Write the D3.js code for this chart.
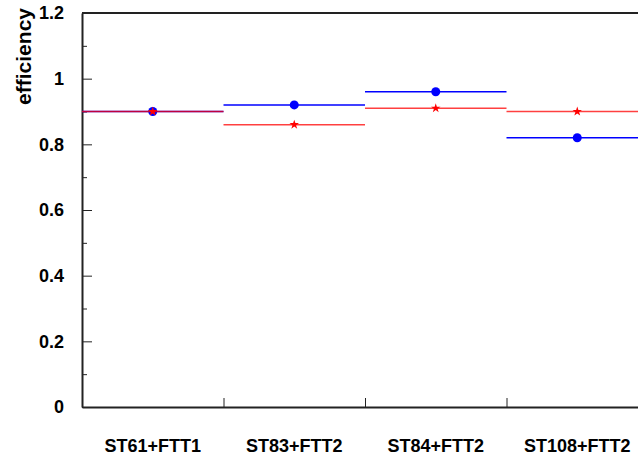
<!DOCTYPE html>
<html>
<head>
<meta charset="utf-8">
<script src="https://cdn.jsdelivr.net/npm/d3@7"></script>
<style>
  body { margin: 0; background: #fff; }
  svg { display: block; font-family: "Liberation Sans", Arial, sans-serif; }
  .axis path, .axis line { stroke: #222; }
  .axis text { font-size: 18px; font-weight: bold; fill: #000; }
</style>
</head>
<body>
<svg width="638" height="460"></svg>
<script>
// categories + efficiency values
const categories = ['ST61+FTT1', 'ST83+FTT2', 'ST84+FTT2', 'ST108+FTT2'];
const blueValues = [0.90, 0.92, 0.96, 0.82];
const redValues = [0.90, 0.86, 0.91, 0.90];
const majorTicks = [0, 0.2, 0.4, 0.6, 0.8, 1, 1.2];
const minorTicks = [0.1, 0.3, 0.5, 0.7, 0.9, 1.1];

const svg = d3.select('svg');
const frame = { left: 82, right: 648, top: 13, bottom: 407 };

const x = d3.scaleBand().domain(categories).range([frame.left, frame.right]).padding(0);
const xEdge = d3.scaleLinear().domain([0, categories.length]).range([frame.left, frame.right]);
const y = d3.scaleLinear().domain([0, 1.2]).range([frame.bottom, frame.top]);

// top and right border of the frame
svg.append('path')
    .attr('d', `M${frame.left},${frame.top}H${frame.right}V${frame.bottom}`)
    .attr('fill', 'none')
    .attr('stroke', '#222')
    .attr('stroke-width', 2);

// minor ticks on the y axis
svg.append('g')
    .attr('class', 'axis')
    .attr('transform', `translate(${frame.left},0)`)
    .call(d3.axisLeft(y).tickValues(minorTicks).tickSize(-5).tickFormat(''))
    .call(g => g.select('.domain').remove());

// major ticks + labels
svg.append('g')
    .attr('class', 'axis')
    .attr('transform', `translate(${frame.left},0)`)
    .call(d3.axisLeft(y).tickValues(majorTicks).tickSize(-10).tickPadding(18).tickSizeOuter(0)
        .tickFormat(d => String(+d.toFixed(1))))
    .call(g => g.select('.domain').attr('stroke-width', 2));

// bin edges on the x axis
svg.append('g')
    .attr('class', 'axis')
    .attr('transform', `translate(0,${frame.bottom})`)
    .call(d3.axisBottom(xEdge).tickValues([1, 2, 3]).tickSize(-9).tickSizeOuter(0).tickFormat(''))
    .call(g => g.select('.domain').attr('stroke-width', 2));

// category labels
svg.append('g')
    .attr('class', 'axis')
    .attr('transform', `translate(0,${frame.bottom})`)
    .call(d3.axisBottom(x).tickSize(0).tickPadding(32))
    .call(g => g.select('.domain').remove());

// y title
svg.append('text')
    .attr('transform', 'translate(31,8) rotate(-90)')
    .attr('text-anchor', 'end')
    .style('font-size', '21px')
    .style('font-weight', 'bold')
    .text('efficiency');

// blue series: horizontal bin lines + circles
svg.append('g').selectAll('line')
    .data(blueValues)
    .enter()
    .append('line')
        .attr('x1', (d, i) => x(categories[i]))
        .attr('x2', (d, i) => x(categories[i]) + x.bandwidth())
        .attr('y1', d => y(d))
        .attr('y2', d => y(d))
        .attr('stroke', '#0000ff')
        .attr('stroke-width', 1.5);

svg.append('g').selectAll('circle')
    .data(blueValues)
    .enter()
    .append('circle')
        .attr('cx', (d, i) => x(categories[i]) + x.bandwidth() / 2)
        .attr('cy', d => y(d))
        .attr('r', 4.5)
        .attr('fill', '#0000ff');

// red series: lines + stars
svg.append('g').selectAll('line')
    .data(redValues)
    .enter()
    .append('line')
        .attr('x1', (d, i) => x(categories[i]))
        .attr('x2', (d, i) => x(categories[i]) + x.bandwidth())
        .attr('y1', d => y(d))
        .attr('y2', d => y(d))
        .attr('stroke', '#ff0000')
        .attr('stroke-opacity', 0.75)
        .attr('stroke-width', 1.5);

const star = d3.symbol().type(d3.symbolStar).size(28);
svg.append('g').selectAll('path')
    .data(redValues)
    .enter()
    .append('path')
        .attr('d', star)
        .attr('transform', (d, i) => `translate(${x(categories[i]) + x.bandwidth() / 2},${y(d)})`)
        .attr('fill', '#ff0000');
</script>
</body>
</html>
